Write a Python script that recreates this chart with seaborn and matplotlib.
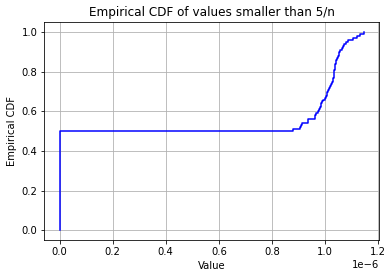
import matplotlib
matplotlib.use("Agg")
import matplotlib.pyplot as plt
import numpy as np
import pandas as pd
import seaborn as sns

# 100 samples: half are exactly zero, the rest sit just below 5/n
n_zeros = 50
small_values = [
    0.879, 0.905, 0.908, 0.912, 0.935, 0.936, 0.962, 0.963, 0.966, 0.972,
    0.979, 0.981, 0.983, 0.984, 0.988, 0.991, 0.998, 1.003, 1.006, 1.008,
    1.010, 1.015, 1.019, 1.024, 1.027, 1.029, 1.031, 1.032, 1.033, 1.034,
    1.035, 1.036, 1.037, 1.039, 1.041, 1.043, 1.044, 1.048, 1.051, 1.054,
    1.058, 1.063, 1.068, 1.072, 1.079, 1.087, 1.106, 1.119, 1.131, 1.146,
]
scale = 1e-6

df = pd.DataFrame({"value": [0.0] * n_zeros + [v * scale for v in small_values]})

fig = plt.figure(figsize=(392 / 72, 278 / 72), dpi=72)
ax = fig.add_axes([0.113, 0.136, 0.854, 0.784])

sns.ecdfplot(data=df, x="value", color="blue", linewidth=1.5, ax=ax)

ax.set_ylim(-0.05, 1.05)
ax.set_xlabel("Value")
ax.set_ylabel("Empirical CDF")
ax.set_title("Empirical CDF of values smaller than 5/n")
ax.grid(True)

fig.savefig("out.png", dpi=72)
